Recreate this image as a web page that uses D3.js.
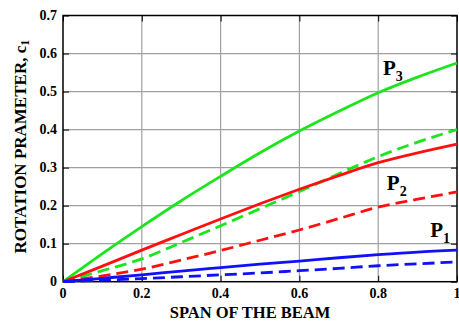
<!DOCTYPE html>
<html>
<head>
<meta charset="utf-8">
<script src="https://cdn.jsdelivr.net/npm/d3@7"></script>
<style>
  body { margin: 0; background: #fff; }
  svg { display: block; }
  text { font-family: "Liberation Serif", "Times New Roman", serif; font-weight: bold; fill: #000; }
</style>
</head>
<body>
<svg id="chart" width="459" height="322"></svg>
<script>
// span positions (fraction of beam length)
var span = [0, 0.1, 0.2, 0.3, 0.4, 0.5, 0.6, 0.7, 0.8, 0.9, 1.0];

// rotation parameter c1
var p3Solid  = [0, 0.074, 0.145, 0.213, 0.277, 0.339, 0.396, 0.448, 0.497, 0.538, 0.575];
var p3Dashed = [0, 0.029, 0.060, 0.103, 0.147, 0.192, 0.237, 0.284, 0.329, 0.367, 0.400];
var p2Solid  = [0, 0.041, 0.083, 0.124, 0.165, 0.205, 0.243, 0.279, 0.313, 0.339, 0.362];
var p2Dashed = [0, 0.015, 0.033, 0.057, 0.082, 0.109, 0.136, 0.166, 0.196, 0.217, 0.236];
var p1Solid  = [0, 0.009, 0.018, 0.028, 0.037, 0.046, 0.054, 0.063, 0.071, 0.078, 0.083];
var p1Dashed = [0, 0.004, 0.008, 0.013, 0.018, 0.023, 0.029, 0.035, 0.042, 0.047, 0.052];

var xTicks = [0, 0.2, 0.4, 0.6, 0.8, 1];
var yTicks = [0, 0.1, 0.2, 0.3, 0.4, 0.5, 0.6, 0.7];

var series = [
    {values: p3Solid,  color: "#1be51b", dashed: false},
    {values: p3Dashed, color: "#1be51b", dashed: true},
    {values: p2Solid,  color: "#ff1010", dashed: false},
    {values: p2Dashed, color: "#ff1010", dashed: true},
    {values: p1Solid,  color: "#1010ff", dashed: false},
    {values: p1Dashed, color: "#1010ff", dashed: true}
];

// curve labels: name, subscript, position in data units
var labelNames = ["P", "P", "P"];
var labelSubs  = ["3", "2", "1"];
var labelX     = [0.812, 0.822, 0.932];
var labelY     = [0.543, 0.240, 0.1175];

var margin = {top: 15.5, right: 2, bottom: 40.3, left: 63},
    width = 459 - margin.left - margin.right,
    height = 322 - margin.top - margin.bottom;

var x = d3.scaleLinear().domain([0, 1]).range([0, width]);
var y = d3.scaleLinear().domain([0, 0.7]).range([height, 0]);

var svg = d3.select("#chart")
    .append("g")
    .attr("transform", "translate(" + margin.left + "," + margin.top + ")");

// grid
svg.append("g")
    .selectAll("line.gx")
    .data(xTicks.slice(1, -1))
    .enter()
    .append("line")
    .attr("x1", function(d) { return x(d); })
    .attr("x2", function(d) { return x(d); })
    .attr("y1", 0)
    .attr("y2", height)
    .attr("stroke", "#a0a0a0")
    .attr("stroke-width", 1.2);

svg.append("g")
    .selectAll("line.gy")
    .data(yTicks.slice(1, -1))
    .enter()
    .append("line")
    .attr("y1", function(d) { return y(d); })
    .attr("y2", function(d) { return y(d); })
    .attr("x1", 0)
    .attr("x2", width)
    .attr("stroke", "#a0a0a0")
    .attr("stroke-width", 1.2);

// inward tick marks on all four sides
var tickLen = 6;
svg.append("g").call(d3.axisBottom(x).tickValues(xTicks).tickSize(tickLen).tickFormat(""))
    .attr("transform", "translate(0," + (height - tickLen) + ")")
    .call(function(g) { g.select(".domain").remove(); });
svg.append("g").call(d3.axisTop(x).tickValues(xTicks).tickSize(tickLen).tickFormat(""))
    .attr("transform", "translate(0," + tickLen + ")")
    .call(function(g) { g.select(".domain").remove(); });
svg.append("g").call(d3.axisRight(y).tickValues(yTicks).tickSize(tickLen).tickFormat(""))
    .call(function(g) { g.select(".domain").remove(); });
svg.append("g").call(d3.axisLeft(y).tickValues(yTicks).tickSize(tickLen).tickFormat(""))
    .attr("transform", "translate(" + width + ",0)")
    .call(function(g) { g.select(".domain").remove(); });

// frame
svg.append("rect")
    .attr("width", width)
    .attr("height", height)
    .attr("fill", "none")
    .attr("stroke", "#000")
    .attr("stroke-width", 1.5);

// tick labels
svg.append("g")
    .selectAll("text")
    .data(xTicks)
    .enter()
    .append("text")
    .attr("x", function(d) { return x(d); })
    .attr("y", height + 16)
    .attr("text-anchor", "middle")
    .style("font-size", "14px")
    .text(function(d) { return d3.format("")(d); });

svg.append("g")
    .selectAll("text")
    .data(yTicks)
    .enter()
    .append("text")
    .attr("x", -6)
    .attr("y", function(d) { return y(d) + 4.5; })
    .attr("text-anchor", "end")
    .style("font-size", "14px")
    .text(function(d) { return d3.format("")(d); });

// curves
var line = d3.line()
    .x(function(d, i) { return x(span[i]); })
    .y(function(d) { return y(d); })
    .curve(d3.curveMonotoneX);

svg.append("g")
    .selectAll("path")
    .data(series)
    .enter()
    .append("path")
    .attr("d", function(d) { return line(d.values); })
    .attr("fill", "none")
    .attr("stroke", function(d) { return d.color; })
    .attr("stroke-width", 2.8)
    .attr("stroke-dasharray", function(d) { return d.dashed ? "12,6" : null; });

// curve labels
var lab = svg.append("g")
    .selectAll("text")
    .data(labelNames)
    .enter()
    .append("text")
    .attr("x", function(d, i) { return x(labelX[i]); })
    .attr("y", function(d, i) { return y(labelY[i]); })
    .style("font-size", "21px");
lab.append("tspan").text(function(d) { return d; });
lab.append("tspan")
    .attr("dy", 6)
    .style("font-size", "14px")
    .text(function(d, i) { return labelSubs[i]; });

// axis titles
svg.append("text")
    .attr("x", width / 2 - 10)
    .attr("y", height + 36)
    .attr("text-anchor", "middle")
    .style("font-size", "16.5px")
    .text("SPAN OF THE BEAM");

var yt = svg.append("text")
    .attr("transform", "translate(" + (-37) + "," + (height / 2 - 2) + ") rotate(-90)")
    .attr("text-anchor", "middle")
    .style("font-size", "17px");
yt.append("tspan").text("ROTATION PRAMETER, c");
yt.append("tspan").attr("dy", 3).style("font-size", "12px").text("1");
</script>
</body>
</html>
